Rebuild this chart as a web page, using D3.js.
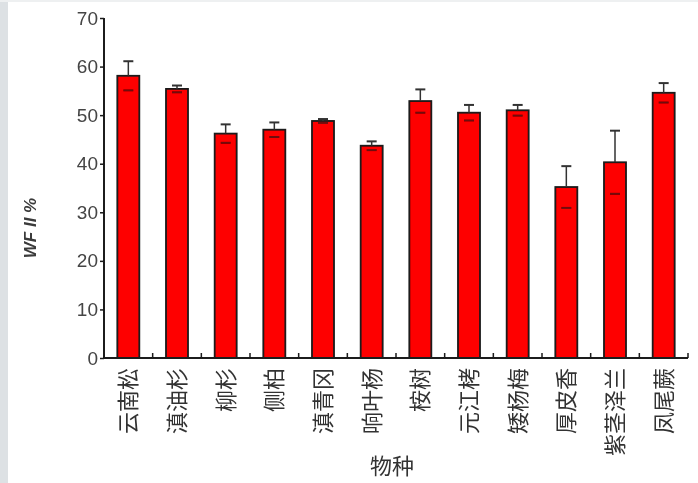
<!DOCTYPE html>
<html>
<head>
<meta charset="utf-8">
<script src="https://cdn.jsdelivr.net/npm/d3@7"></script>
<style>
  html, body { margin: 0; padding: 0; background: #fff; }
  svg { display: block; }
</style>
</head>
<body>
<svg id="chart" width="698" height="483"></svg>
<script>
// Species and their mean WF values with standard deviations
const species = ["云南松", "滇油杉", "柳杉", "侧柏", "滇青冈", "响叶杨", "桉树", "元江栲", "矮杨梅", "厚皮香", "紫茎泽兰", "凤尾蕨"];
const meanValues = [58.1, 55.4, 46.2, 47.0, 48.8, 43.7, 52.9, 50.5, 51.0, 35.2, 40.3, 54.6];
const sdValues = [3.0, 0.7, 1.9, 1.5, 0.4, 0.9, 2.4, 1.6, 1.1, 4.3, 6.5, 2.0];
const yTicks = [0, 10, 20, 30, 40, 50, 60, 70];
const yTitle = "WF II %";
const xTitle = "物种";

const rows = species.map((s, i) => ({ name: s, mean: meanValues[i], sd: sdValues[i] }));

const svg = d3.select("#chart");
const W = 698, H = 483;
const margin = { left: 104, right: 10, top: 18, bottom: 125 };

// page backdrop: soft grey strip on the left edge
svg.append("rect").attr("x", 0).attr("y", 0).attr("width", W).attr("height", H).attr("fill", "#ffffff");
svg.append("rect").attr("x", 0).attr("y", 0).attr("width", 8).attr("height", H).attr("fill", "#dde1e4");
svg.append("rect").attr("x", 0).attr("y", 0).attr("width", W).attr("height", 2).attr("fill", "#eef0f1");

const defs = svg.append("defs");
defs.append("filter").attr("id", "soft")
  .append("feGaussianBlur").attr("stdDeviation", 0.55);

const g = svg.append("g").attr("filter", "url(#soft)");

const x = d3.scaleBand()
  .domain(species)
  .range([margin.left, W - margin.right])
  .paddingInner(0).paddingOuter(0);

const y = d3.scaleLinear()
  .domain([0, 70])
  .range([H - margin.bottom, margin.top]);

const barW = 22;
const ink = "#1a1a1a";

// bars
g.selectAll("rect.bar").data(rows).enter().append("rect")
  .attr("class", "bar")
  .attr("x", d => x(d.name) + x.bandwidth() / 2 - barW / 2)
  .attr("y", d => y(d.mean))
  .attr("width", barW)
  .attr("height", d => y(0) - y(d.mean))
  .attr("fill", "#fe0000")
  .attr("stroke", ink)
  .attr("stroke-width", 1.8);

// upper error whiskers with caps
g.selectAll("line.whisker").data(rows).enter().append("line")
  .attr("x1", d => x(d.name) + x.bandwidth() / 2)
  .attr("x2", d => x(d.name) + x.bandwidth() / 2)
  .attr("y1", d => y(d.mean))
  .attr("y2", d => y(d.mean + d.sd))
  .attr("stroke", "#333").attr("stroke-width", 1.5);

g.selectAll("line.cap").data(rows).enter().append("line")
  .attr("x1", d => x(d.name) + x.bandwidth() / 2 - 5)
  .attr("x2", d => x(d.name) + x.bandwidth() / 2 + 5)
  .attr("y1", d => y(d.mean + d.sd))
  .attr("y2", d => y(d.mean + d.sd))
  .attr("stroke", "#333").attr("stroke-width", 2);

// lower caps seen through the bar fill
g.selectAll("line.lowcap").data(rows).enter().append("line")
  .attr("x1", d => x(d.name) + x.bandwidth() / 2 - 5)
  .attr("x2", d => x(d.name) + x.bandwidth() / 2 + 5)
  .attr("y1", d => y(d.mean - d.sd))
  .attr("y2", d => y(d.mean - d.sd))
  .attr("stroke", "#6e0808").attr("stroke-width", 2);

// y axis
const yAxis = d3.axisLeft(y).tickValues(yTicks).tickSize(4).tickPadding(2).tickFormat(d3.format("d"));
const ya = g.append("g").attr("transform", `translate(${margin.left},0)`).call(yAxis);
ya.select(".domain").attr("stroke", ink).attr("stroke-width", 2).attr("d", `M0,${y(70)}V${y(0)}`);
ya.selectAll(".tick line").attr("stroke", ink).attr("stroke-width", 1.5);
ya.selectAll(".tick text")
  .attr("font-family", "'Liberation Sans', Arial, sans-serif")
  .attr("font-size", 19).attr("fill", "#444");

// x axis: inward ticks at band boundaries
const xa = g.append("g").attr("transform", `translate(0,${y(0)})`);
xa.append("line").attr("x1", margin.left).attr("x2", W - margin.right)
  .attr("y1", 0).attr("y2", 0).attr("stroke", ink).attr("stroke-width", 2);
const bounds = species.map(s => x(s) + x.bandwidth());
xa.selectAll("line.xt").data(bounds).enter().append("line")
  .attr("x1", d => d).attr("x2", d => d).attr("y1", 0).attr("y2", -5)
  .attr("stroke", ink).attr("stroke-width", 1.5);

// category labels, rotated, reading upward
g.selectAll("text.cat").data(species).enter().append("text")
  .attr("transform", d => `translate(${x(d) + x.bandwidth() / 2 + 8},${y(0) + 10}) rotate(-90)`)
  .attr("text-anchor", "end")
  .attr("font-family", "'Noto Sans CJK SC', sans-serif")
  .attr("font-size", 22)
  .attr("fill", "#333")
  .text(d => d);

// axis titles
g.append("text")
  .attr("transform", `translate(36,${(y(0) + y(70)) / 2 + 40}) rotate(-90)`)
  .attr("text-anchor", "middle")
  .attr("font-family", "'Liberation Sans', Arial, sans-serif")
  .attr("font-style", "italic")
  .attr("font-weight", "bold")
  .attr("font-size", 17)
  .attr("fill", "#3a3a3a")
  .text(yTitle);

g.append("text")
  .attr("x", 392).attr("y", 474)
  .attr("text-anchor", "middle")
  .attr("font-family", "'Noto Sans CJK SC', sans-serif")
  .attr("font-size", 22)
  .attr("fill", "#333")
  .text(xTitle);
</script>
</body>
</html>
